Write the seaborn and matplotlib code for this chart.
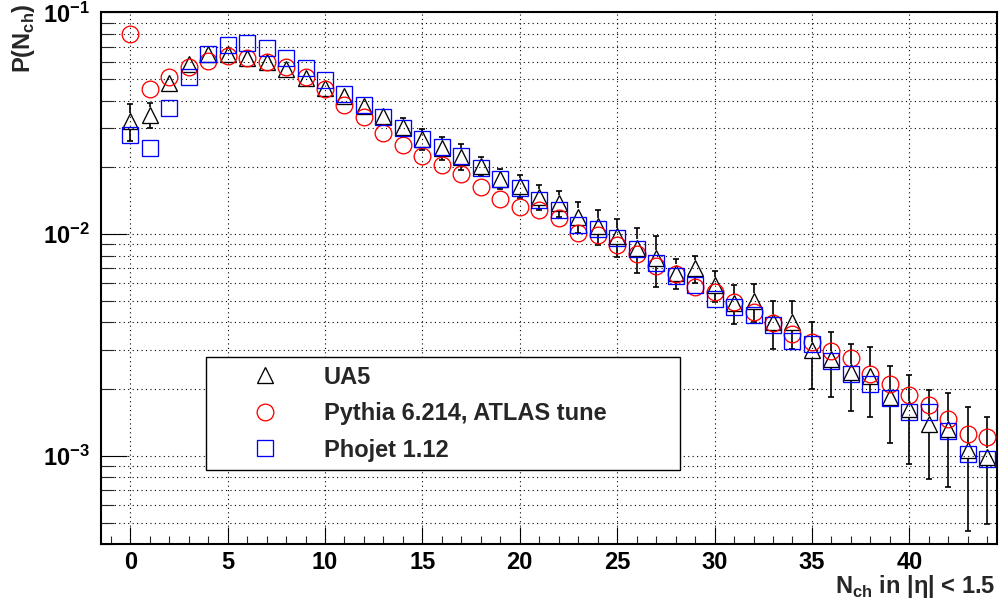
import numpy as np
import matplotlib
matplotlib.use("Agg")
import matplotlib.pyplot as plt
import seaborn as sns
from matplotlib.ticker import MultipleLocator, LogLocator, NullFormatter, FixedLocator

# ---------------- data ----------------
n_ch = list(range(45))

ua5 = [0.0324, 0.0345, 0.0480, 0.0586, 0.0650, 0.0650, 0.0623, 0.0598, 0.0556, 0.0506,
       0.0456, 0.0421, 0.0378, 0.0341, 0.0304, 0.0269, 0.0245, 0.0224, 0.0203, 0.0178,
       0.0165, 0.0147, 0.0138, 0.0120, 0.0109, 0.0098, 0.0087, 0.0078, 0.0067, 0.0070,
       0.0059, 0.0049, 0.0050, 0.0040, 0.0040, 0.0030, 0.00273, 0.00239, 0.00230, 0.00184,
       0.00162, 0.00139, 0.00132, 0.00106, 0.00099]
ua5_err = [0.0062, 0.0044, 0.0025, 0.0025, 0.0025, 0.0025, 0.0025, 0.0025, 0.0025, 0.0025,
           0.0025, 0.0025, 0.0025, 0.0027, 0.0029, 0.0029, 0.0029, 0.0030, 0.0020, 0.0018,
           0.0019, 0.0019, 0.0019, 0.0019, 0.0020, 0.0019, 0.0020, 0.0020, 0.00105, 0.0010,
           0.00095, 0.00098, 0.00098, 0.00098, 0.00098, 0.0010, 0.00089, 0.00079, 0.00081, 0.0007,
           0.0007, 0.0006, 0.0006, 0.0006, 0.0005]
pythia = [0.0800, 0.0451, 0.0512, 0.0568, 0.0604, 0.0636, 0.0623, 0.0598, 0.0568, 0.0512,
          0.0451, 0.0382, 0.0338, 0.0287, 0.0252, 0.0225, 0.0205, 0.0186, 0.0164, 0.0144,
          0.0133, 0.0128, 0.0118, 0.0101, 0.0099, 0.0089, 0.0081, 0.0072, 0.0066, 0.0058,
          0.0055, 0.00495, 0.00446, 0.00399, 0.00356, 0.00327, 0.00297, 0.00277, 0.00233, 0.00210,
          0.00189, 0.00169, 0.00146, 0.00125, 0.00122]
phojet = [0.0280, 0.0245, 0.0371, 0.0512, 0.0650, 0.0713, 0.0728, 0.0692, 0.0623, 0.0562,
          0.0496, 0.0429, 0.0382, 0.0338, 0.0302, 0.0270, 0.0246, 0.0225, 0.0199, 0.0178,
          0.0162, 0.0143, 0.0129, 0.0110, 0.0106, 0.0096, 0.0086, 0.0074, 0.0065, 0.0059,
          0.0051, 0.0047, 0.0043, 0.0039, 0.0033, 0.0032, 0.00268, 0.00234, 0.00210, 0.00182,
          0.00158, 0.00157, 0.00130, 0.00102, 0.00097]

x_major_ticks = [0, 5, 10, 15, 20, 25, 30, 35, 40]
series_labels = ["UA5", "Pythia 6.214, ATLAS tune", "Phojet 1.12"]
x_label = r"N$_{\mathdefault{ch}}$ in |η| < 1.5"
y_label = r"P(N$_{\mathdefault{ch}}$)"

# ---------------- style ----------------
sns.set_style("white")
plt.rcParams["font.family"] = ["Liberation Sans", "DejaVu Sans"]
plt.rcParams["font.weight"] = "bold"
plt.rcParams["axes.edgecolor"] = "black"
plt.rcParams["axes.linewidth"] = 1.5

MS = 12
MEW = 0.95

fig = plt.figure(figsize=(10, 6.03), dpi=100)
ax = fig.add_axes([0.101, 0.0978, 0.896, 0.8815])

sns.lineplot(x=n_ch, y=ua5, ax=ax, marker="^", linestyle="", ms=MS, mfc="none",
             mec="black", mew=MEW, color="black", label=series_labels[0],
             errorbar=None, sort=False, zorder=4)
sns.lineplot(x=n_ch, y=pythia, ax=ax, marker="o", linestyle="", ms=MS, mfc="none",
             mec="red", mew=MEW, color="red", label=series_labels[1],
             errorbar=None, sort=False, zorder=4)
sns.lineplot(x=n_ch, y=phojet, ax=ax, marker="s", linestyle="", ms=MS, mfc="none",
             mec="blue", mew=MEW, color="blue", label=series_labels[2],
             errorbar=None, sort=False, zorder=4)

ax.set_yscale("log")
ax.set_xlim(-1.5, 44.5)
ax.set_ylim(4.0e-4, 0.1)

# ---- UA5 error bars, drawn outside the marker (ROOT style) ----
xv = np.asarray(n_ch, dtype=float)
yv = np.asarray(ua5)
ev = np.asarray(ua5_err)
half_px = MS / 2 * fig.dpi / 72.0
disp = ax.transData.transform(np.column_stack([xv, yv]))
inv = ax.transData.inverted()
top_edge = inv.transform(np.column_stack([disp[:, 0], disp[:, 1] + half_px]))[:, 1]
bot_edge = inv.transform(np.column_stack([disp[:, 0], disp[:, 1] - half_px]))[:, 1]
up = yv + ev
lo = yv - ev
m_up = up > top_edge
m_lo = lo < bot_edge
ax.vlines(xv[m_up], top_edge[m_up], up[m_up], color="black", lw=1.2, zorder=3)
ax.vlines(xv[m_lo], lo[m_lo], bot_edge[m_lo], color="black", lw=1.2, zorder=3)
ax.plot(xv[m_up], up[m_up], ls="", marker="_", ms=4.5, mew=1.2, color="black", zorder=3)
ax.plot(xv[m_lo], lo[m_lo], ls="", marker="_", ms=4.5, mew=1.2, color="black", zorder=3)

# ---------------- axes ----------------
ax.xaxis.set_major_locator(FixedLocator(x_major_ticks))
ax.xaxis.set_minor_locator(MultipleLocator(1))
ax.yaxis.set_major_locator(LogLocator(base=10, numticks=20))
ax.yaxis.set_minor_locator(LogLocator(base=10, subs=np.arange(2, 10), numticks=100))
ax.yaxis.set_minor_formatter(NullFormatter())

ax.tick_params(axis="x", which="major", direction="in", length=12.5, width=0.8,
               labelsize=17, pad=5, top=False, bottom=True, colors="black")
ax.tick_params(axis="x", which="minor", direction="in", length=5.5, width=0.8,
               top=False, bottom=True)
ax.tick_params(axis="y", which="major", direction="in", length=19, width=0.8,
               labelsize=17, pad=8, right=False, left=True, colors="black")
ax.tick_params(axis="y", which="minor", direction="in", length=9.5, width=0.8,
               right=False, left=True)
for lab in ax.get_xticklabels() + ax.get_yticklabels():
    lab.set_fontweight("bold")

grid_kw = dict(color="black", linestyle=(0, (1, 3)), linewidth=0.8)
ax.grid(True, which="major", axis="x", **grid_kw)
ax.grid(True, which="both", axis="y", **grid_kw)
ax.set_axisbelow(True)

for sp in ax.spines.values():
    sp.set_visible(True)
    sp.set_color("black")
    sp.set_linewidth(1.5)

ax.set_xlabel(x_label, fontsize=17, fontweight="bold", loc="right")
ax.xaxis.set_label_coords(0.998, -0.054)
ax.set_ylabel(y_label, fontsize=17, fontweight="bold", loc="top")
ax.yaxis.set_label_coords(-0.071, 1.017)

handles, labels = ax.get_legend_handles_labels()
leg = ax.legend(handles, labels, loc="upper left",
                bbox_to_anchor=(0.117, 0.1165, 0.529, 0.235), mode="expand",
                borderaxespad=0, prop={"size": 17, "weight": "bold"},
                frameon=True, fancybox=False, edgecolor="black", framealpha=1,
                borderpad=0.36, labelspacing=0.57, handlelength=4.28,
                handletextpad=0.36, numpoints=1)
leg.get_frame().set_linewidth(1.0)
leg.set_zorder(6)

fig.savefig("out.png", dpi=100)
